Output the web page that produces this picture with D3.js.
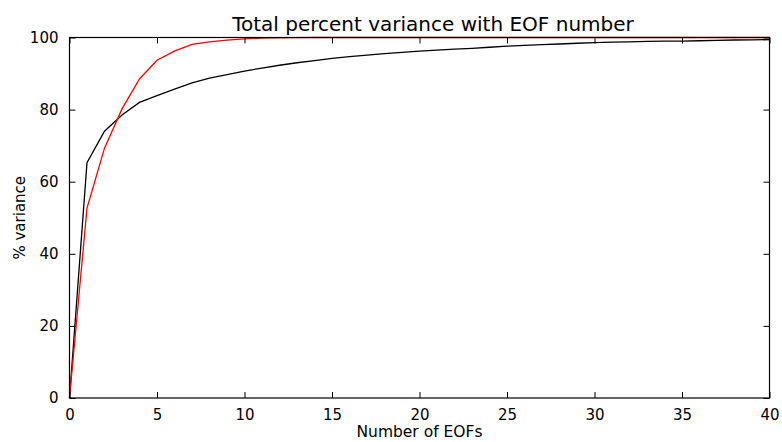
<!DOCTYPE html>
<html>
<head>
<meta charset="utf-8">
<script src="https://cdn.jsdelivr.net/npm/d3@7"></script>
<style>
  body { margin: 0; background: #fff; }
  text { font-family: "DejaVu Sans", sans-serif; fill: #000; }
</style>
</head>
<body>
<script>
// EOF number 0..40
const eofNumbers = d3.range(0, 41);
// cumulative % variance, black curve
const blackVariance = [0, 65.3, 74.0, 78.5, 82.0, 83.9, 85.7, 87.4, 88.7, 89.7,
  90.7, 91.5, 92.3, 93.0, 93.6, 94.2, 94.7, 95.1, 95.5, 95.9,
  96.2, 96.5, 96.8, 97.0, 97.3, 97.6, 97.8, 98.0, 98.2, 98.4,
  98.6, 98.7, 98.8, 98.9, 99.0, 99.0, 99.1, 99.2, 99.3, 99.35, 99.4];
// cumulative % variance, red curve
const redVariance = [0, 52.7, 69.3, 80.2, 88.5, 93.7, 96.2, 98.1, 98.8, 99.3,
  99.6, 99.8, 99.9, 99.95, 100, 100, 100, 100, 100, 100,
  100, 100, 100, 100, 100, 100, 100, 100, 100, 100,
  100, 100, 100, 100, 100, 100, 100, 100, 100, 100, 100];
const xTicks = [0, 5, 10, 15, 20, 25, 30, 35, 40];
const yTicks = [0, 20, 40, 60, 80, 100];

const width = 782, height = 442;
const margin = { left: 69.5, right: 12.5, top: 37.5, bottom: 44 };

const svg = d3.select('body').append('svg')
  .attr('width', width)
  .attr('height', height);

const x = d3.scaleLinear().domain([0, 40]).range([margin.left, width - margin.right]);
const y = d3.scaleLinear().domain([0, 100]).range([height - margin.bottom, margin.top]);

const line = d3.line()
  .x((d, i) => x(eofNumbers[i]))
  .y(d => y(d));

svg.append('path')
  .datum(blackVariance)
  .attr('d', line)
  .attr('fill', 'none')
  .attr('stroke', '#000')
  .attr('stroke-width', 1.3);

svg.append('path')
  .datum(redVariance)
  .attr('d', line)
  .attr('fill', 'none')
  .attr('stroke', '#ff0000')
  .attr('stroke-width', 1.3);

// axes with inward ticks on all four sides
const tickLen = 6;
const bottomAxis = d3.axisBottom(x).tickValues(xTicks).tickSizeInner(-tickLen).tickSizeOuter(0).tickPadding(tickLen + 5);
const topAxis = d3.axisTop(x).tickValues(xTicks).tickSizeInner(-tickLen).tickSizeOuter(0).tickFormat('');
const leftAxis = d3.axisLeft(y).tickValues(yTicks).tickSizeInner(-tickLen).tickSizeOuter(0).tickPadding(tickLen + 5);
const rightAxis = d3.axisRight(y).tickValues(yTicks).tickSizeInner(-tickLen).tickSizeOuter(0).tickFormat('');

const gB = svg.append('g').attr('transform', `translate(0,${height - margin.bottom})`).call(bottomAxis);
const gT = svg.append('g').attr('transform', `translate(0,${margin.top})`).call(topAxis);
const gL = svg.append('g').attr('transform', `translate(${margin.left},0)`).call(leftAxis);
const gR = svg.append('g').attr('transform', `translate(${width - margin.right},0)`).call(rightAxis);

[gB, gT, gL, gR].forEach(g => {
  g.selectAll('.domain').remove();
  g.selectAll('line').attr('stroke', '#000').attr('stroke-width', 1);
  g.selectAll('text').style('font-family', '"DejaVu Sans", sans-serif').style('font-size', '15px').attr('fill', '#000');
});

// frame
svg.append('rect')
  .attr('x', margin.left)
  .attr('y', margin.top)
  .attr('width', width - margin.left - margin.right)
  .attr('height', height - margin.top - margin.bottom)
  .attr('fill', 'none')
  .attr('stroke', '#000')
  .attr('stroke-width', 1.2);

svg.append('text')
  .attr('x', 433)
  .attr('y', 31)
  .attr('text-anchor', 'middle')
  .style('font-size', '20px')
  .text('Total percent variance with EOF number');

svg.append('text')
  .attr('x', (margin.left + width - margin.right) / 2)
  .attr('y', 437)
  .attr('text-anchor', 'middle')
  .style('font-size', '15.5px')
  .text('Number of EOFs');

svg.append('text')
  .attr('transform', `translate(25,${(margin.top + height - margin.bottom) / 2}) rotate(-90)`)
  .attr('text-anchor', 'middle')
  .style('font-size', '15px')
  .text('% variance');
</script>
</body>
</html>
